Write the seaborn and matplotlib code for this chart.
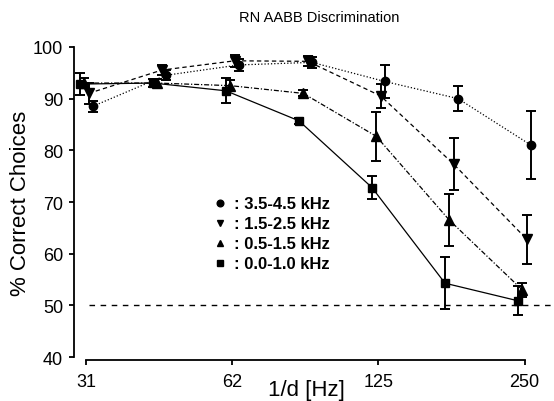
#!/usr/bin/env python3
"""RN AABB discrimination: % correct vs 1/d, four frequency bands, SE bars."""
import matplotlib
matplotlib.use("Agg")
import matplotlib.pyplot as plt
import matplotlib.transforms as mtransforms
from matplotlib.lines import Line2D
import seaborn as sns

# x values (1/d in Hz), half-octave steps
freq_hz = [31.25, 44.2, 62.5, 88.4, 125.0, 176.8, 250.0]
tick_pos = [31.25, 62.5, 125.0, 250.0]
tick_labels = ["31", "62", "125", "250"]

bands = ["3.5-4.5 kHz", "1.5-2.5 kHz", "0.5-1.5 kHz", "0.0-1.0 kHz"]
pct_35_45 = [88.5, 94.5, 96.5, 97.0, 93.3, 90.0, 81.0]
err_35_45 = [1.1, 1.0, 1.2, 1.0, 3.2, 2.4, 6.5]
pct_15_25 = [91.0, 95.5, 97.3, 97.2, 90.5, 77.3, 62.8]
err_15_25 = [2.0, 1.0, 1.2, 1.0, 2.3, 5.0, 4.7]
pct_05_15 = [93.0, 93.0, 92.5, 91.0, 82.7, 66.5, 53.0]
err_05_15 = [1.0, 0.8, 1.0, 0.6, 4.7, 5.0, 1.3]
pct_00_10 = [92.8, 93.0, 91.5, 85.7, 72.8, 54.3, 50.9]
err_00_10 = [2.2, 0.8, 2.4, 0.6, 2.2, 5.0, 2.8]
chance = 50

sns.set_theme(style="ticks")
plt.rcParams["font.family"] = ["Liberation Sans", "DejaVu Sans"]
plt.rcParams["text.color"] = "black"
plt.rcParams["axes.labelcolor"] = "black"

fig = plt.figure(figsize=(5.54, 4.02), dpi=100)
ax = fig.add_axes([0.134, 0.109, 0.866, 0.772])

series = [
    (pct_35_45, err_35_45, "o", (0, (1, 1.6)), 6.0, 4.6),
    (pct_15_25, err_15_25, "v", (0, (3.5, 2.5)), 6.5, 1.6),
    (pct_05_15, err_05_15, "^", (0, (4, 1.5, 1, 1.5)), 6.5, -1.6),
    (pct_00_10, err_00_10, "s", "-", 6.0, -4.7),
]

handles = []
for (vals, errs, mk, ls, ms, dx), lab in zip(series, bands):
    # small horizontal dodge so overlapping groups stay visible
    tr = ax.transData + mtransforms.ScaledTranslation(dx / 72, 0, fig.dpi_scale_trans)
    ax.errorbar(freq_hz, vals, yerr=errs, fmt="none", ecolor="black",
                elinewidth=1.4, capsize=3.3, capthick=1.4, transform=tr, zorder=3)
    ax.plot(freq_hz, vals, color="black", lw=0.9, ls=ls, marker=mk, ms=ms,
            mfc="black", mec="black", transform=tr, zorder=4, clip_on=False)
    handles.append(Line2D([], [], ls="none", marker=mk, ms=4.8, color="black",
                          label=": " + lab))

ax.hlines(chance, 31.6, 300, colors="black", lw=1.0, ls=(0, (4, 4)), zorder=2)

ax.set_xscale("log", base=2)
ax.set_xlim(29.5, 287.5)
ax.set_ylim(40, 100)
ax.set_xticks(tick_pos)
ax.set_xticklabels(tick_labels)
ax.minorticks_off()
ax.set_yticks(range(40, 101, 10))

ax.spines["top"].set_visible(False)
ax.spines["right"].set_visible(False)
ax.spines["bottom"].set_bounds(31.25, 250)
ax.spines["bottom"].set_position(("outward", 1.8))
for s in ("left", "bottom"):
    ax.spines[s].set_linewidth(1.3)
    ax.spines[s].set_color("black")
ax.tick_params(axis="both", colors="black", labelsize=13, width=1.3, length=3.6)
ax.tick_params(axis="x", pad=6)
ax.tick_params(axis="y", pad=4.5)

ax.set_xlabel("1/d [Hz]", fontsize=16)
ax.set_ylabel("% Correct Choices", fontsize=16)
ax.xaxis.set_label_coords(0.483, -0.07)
ax.yaxis.set_label_coords(-0.09, 0.5)
fig.text(0.577, 0.955, "RN AABB Discrimination", ha="center", va="center", fontsize=10.5)

ax.legend(handles=handles, loc="upper left", bbox_to_anchor=(0.273, 0.545), frameon=False,
          prop={"weight": "bold", "size": 12}, handlelength=0.8, handletextpad=0.4,
          borderpad=0, labelspacing=0.3)

fig.savefig("out.png", dpi=100, facecolor="white")
